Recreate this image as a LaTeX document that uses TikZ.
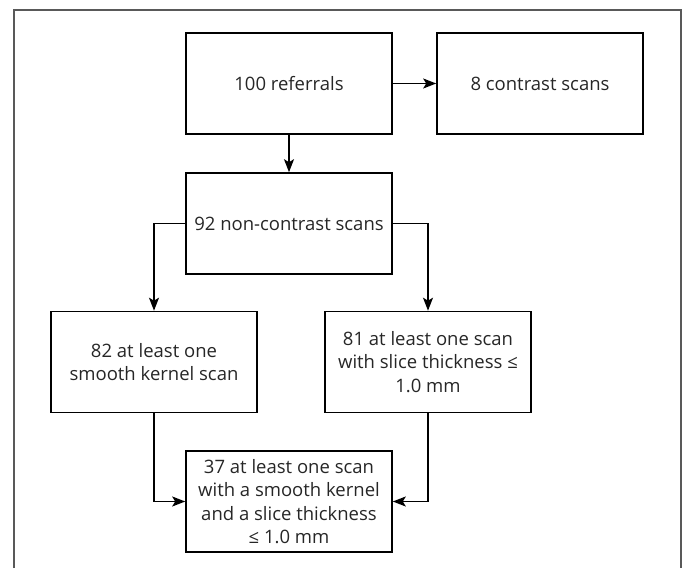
\documentclass[tikz,border=0pt]{standalone}
\usepackage{fontspec}
\setmainfont{Open Sans}
\usetikzlibrary{arrows.meta}

\tikzset{
  box/.style={draw, line width=1.6pt, minimum width=206pt, minimum height=101pt,
    inner sep=0pt, align=center, text=black!85, font=\fontsize{18.5}{23.5}\selectfont},
  arr/.style={line width=1.5pt, -{Stealth[length=13pt, width=10pt, inset=3pt]}}
}

\begin{document}
\begin{tikzpicture}[x=1pt, y=1pt]

    % Frame
    \useasboundingbox (0,0) rectangle (683,568);
    \draw[line width=1.3pt, black!65] (14,0) -- (14,558) -- (681,558) -- (681,0);

    % Boxes
    \node[box] (referrals) at (289,484.5) {100 referrals};
    \node[box] (contrast) at (540,484.5) {8 contrast scans};
    \node[box] (noncontrast) at (289,344.5) {92 non-contrast scans};
    \node[box] (smooth) at (154,206) {82 at least one\\smooth kernel scan};
    \node[box] (thin) at (428,206) {81 at least one scan\\with slice thickness ≤\\1.0 mm};
    \node[box] (both) at (289,66.5) {37 at least one scan\\with a smooth kernel\\and a slice thickness\\≤ 1.0 mm};

    % Arrows
    \draw[arr] (referrals) -- (contrast);
    \draw[arr] (referrals) -- (noncontrast);
    \draw[arr] (noncontrast.west) -| (smooth.north);
    \draw[arr] (noncontrast.east) -| (thin.north);
    \draw[arr] (smooth.south) |- (both.west);
    \draw[arr] (thin.south) |- (both.east);

\end{tikzpicture}
\end{document}
